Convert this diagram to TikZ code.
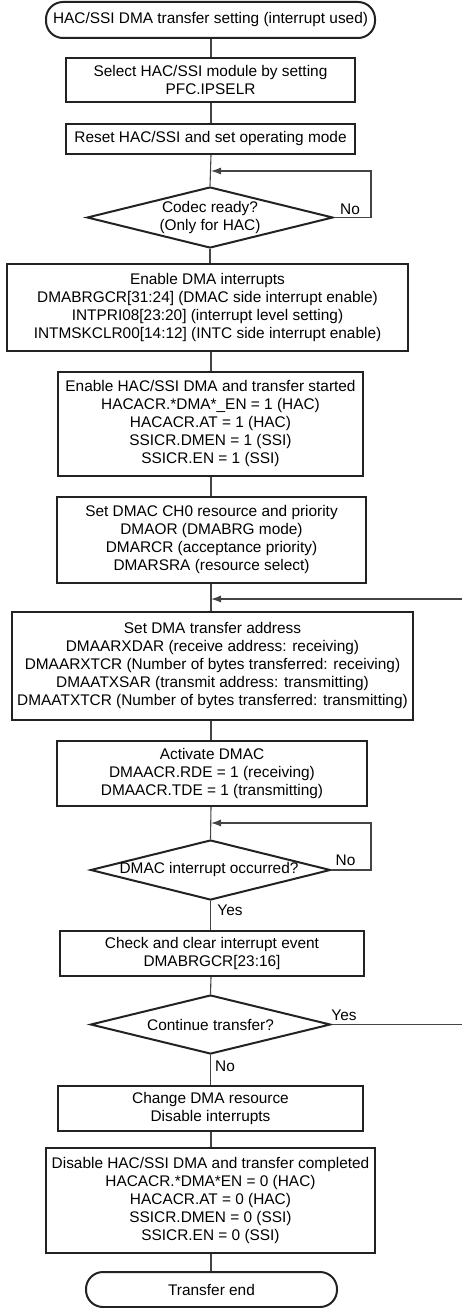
\documentclass[tikz,border=0pt]{standalone}
\usepackage{fontspec}
\setmainfont{Liberation Sans}
\usetikzlibrary{shapes.geometric,arrows.meta}
\definecolor{bord}{HTML}{222222}
\definecolor{conncol}{HTML}{444444}
\newcommand{\myfont}{\fontsize{15.4}{18}\selectfont}
\begin{document}
\begin{tikzpicture}[x=1pt,y=-1pt,
  font=\myfont,
  box/.style={draw=bord,line width=2pt,inner sep=0pt,align=center},
  term/.style={box,rounded corners=17pt},
  dia/.style={draw=bord,line width=2pt,shape=diamond,inner sep=0pt},
  conn/.style={draw=conncol,line width=1.1pt},
  arr/.style={-{Latex[length=10pt,width=7pt]}},
  lbl/.style={inner sep=0pt}
]
\useasboundingbox (0,0) rectangle (461,1308);

\node[term,minimum width=329pt,minimum height=36pt] (start) at (210.5,20) {HAC/SSI DMA transfer setting (interrupt used)};
\node[box,minimum width=289pt,minimum height=44pt] (b1) at (210.5,80) {Select HAC/SSI module by setting\\PFC.IPSELR};
\node[box,minimum width=289pt,minimum height=30pt] (b2) at (210.5,139) {Reset HAC/SSI and set operating mode};
\node[dia,minimum width=246pt,minimum height=61pt,label={[align=center,font=\myfont]center:Codec ready?\\(Only for HAC)}] (d1) at (210,217.5) {};
\node[box,minimum width=401pt,minimum height=87pt] (b3) at (207.5,307.5) {Enable DMA interrupts\\DMABRGCR[31:24] (DMAC side interrupt enable)\\INTPRI08[23:20] (interrupt level setting)\\INTMSKCLR00[14:12] (INTC side interrupt enable)};
\node[box,minimum width=305pt,minimum height=104pt] (b4) at (210.5,424) {Enable HAC/SSI DMA and transfer started\\HACACR.*DMA*\_EN = 1 (HAC)\\HACACR.AT = 1 (HAC)\\SSICR.DMEN = 1 (SSI)\\SSICR.EN = 1 (SSI)};
\node[box,minimum width=309pt,minimum height=86pt] (b5) at (211.5,540) {Set DMAC CH0 resource and priority\\DMAOR (DMABRG mode)\\DMARCR (acceptance priority)\\DMARSRA (resource select)};
\node[box,minimum width=401pt,minimum height=108pt] (b6) at (212.5,666) {Set DMA transfer address\\DMAARXDAR (receive address: receiving)\\DMAARXTCR (Number of bytes transferred: receiving)\\DMAATXSAR (transmit address: transmitting)\\DMAATXTCR (Number of bytes transferred: transmitting)};
\node[box,minimum width=310pt,minimum height=65pt] (b7) at (212,773.5) {Activate DMAC\\DMAACR.RDE = 1 (receiving)\\DMAACR.TDE = 1 (transmitting)};
\node[dia,minimum width=240pt,minimum height=60pt,label={[font=\myfont,xshift=-1.5pt]center:DMAC interrupt occurred?}] (d2) at (210.5,870) {};
\node[box,minimum width=304pt,minimum height=45pt] (b8) at (212,953.5) {Check and clear interrupt event\\DMABRGCR[23:16]};
\node[dia,minimum width=240pt,minimum height=59pt,label={[font=\myfont]center:Continue transfer?}] (d3) at (210.5,1024.5) {};
\node[box,minimum width=305pt,minimum height=45pt] (b9) at (210.5,1108.5) {Change DMA resource\\Disable interrupts};
\node[box,minimum width=329pt,minimum height=105pt] (b10) at (210.5,1200.5) {Disable HAC/SSI DMA and transfer completed\\HACACR.*DMA*EN = 0 (HAC)\\HACACR.AT = 0 (HAC)\\SSICR.DMEN = 0 (SSI)\\SSICR.EN = 0 (SSI)};
\node[term,minimum width=251pt,minimum height=35pt] (end) at (211.5,1289.5) {Transfer end};

% coordinates for loops
\coordinate (r1) at (371,171);
\coordinate (m1) at (211,171);
\coordinate (r2) at (371,823);
\coordinate (m2) at (211,823);
\coordinate (r3) at (468,599);
\coordinate (m3) at (211,599);

% main flow
\draw[conn] (start.south -| m1) -- (b1.north -| m1);
\draw[conn] (b1.south -| m1) -- (b2.north -| m1);
\draw[conn] (b2.south -| m1) -- (d1.north);
\draw[conn] (d1.south) -- (d1.south |- b3.north);
\draw[conn] (b3.south -| m1) -- (b4.north -| m1);
\draw[conn] (b4.south -| m1) -- (b5.north -| m1);
\draw[conn] (b5.south -| m1) -- (b6.north -| m1);
\draw[conn] (b6.south -| m1) -- (b7.north -| m1);
\draw[conn] (b7.south -| m1) -- (d2.north);
\draw[conn] (d2.south) -- (d2.south |- b8.north);
\draw[conn] (b8.south -| m1) -- (d3.north);
\draw[conn] (d3.south) -- (d3.south |- b9.north);
\draw[conn] (b9.south -| m1) -- (b10.north -| m1);
\draw[conn] (b10.south -| m1) -- (end.north -| m1);

% loops
\draw[conn,arr] (d1.east) -| (r1) -- (m1);
\draw[conn,arr] (d2.east) -| (r2) -- (m2);
\draw[conn,arr] (d3.east) -| (r3) -- (m3);

% labels
\node[lbl] (no1) at (350,209) {No};
\node[lbl] (no2) at (345.5,860) {No};
\node[lbl] (yes2) at (230,910) {Yes};
\node[lbl] (yes3) at (344,1015) {Yes};
\node[lbl] (no3) at (225,1066) {No};
\end{tikzpicture}
\end{document}
